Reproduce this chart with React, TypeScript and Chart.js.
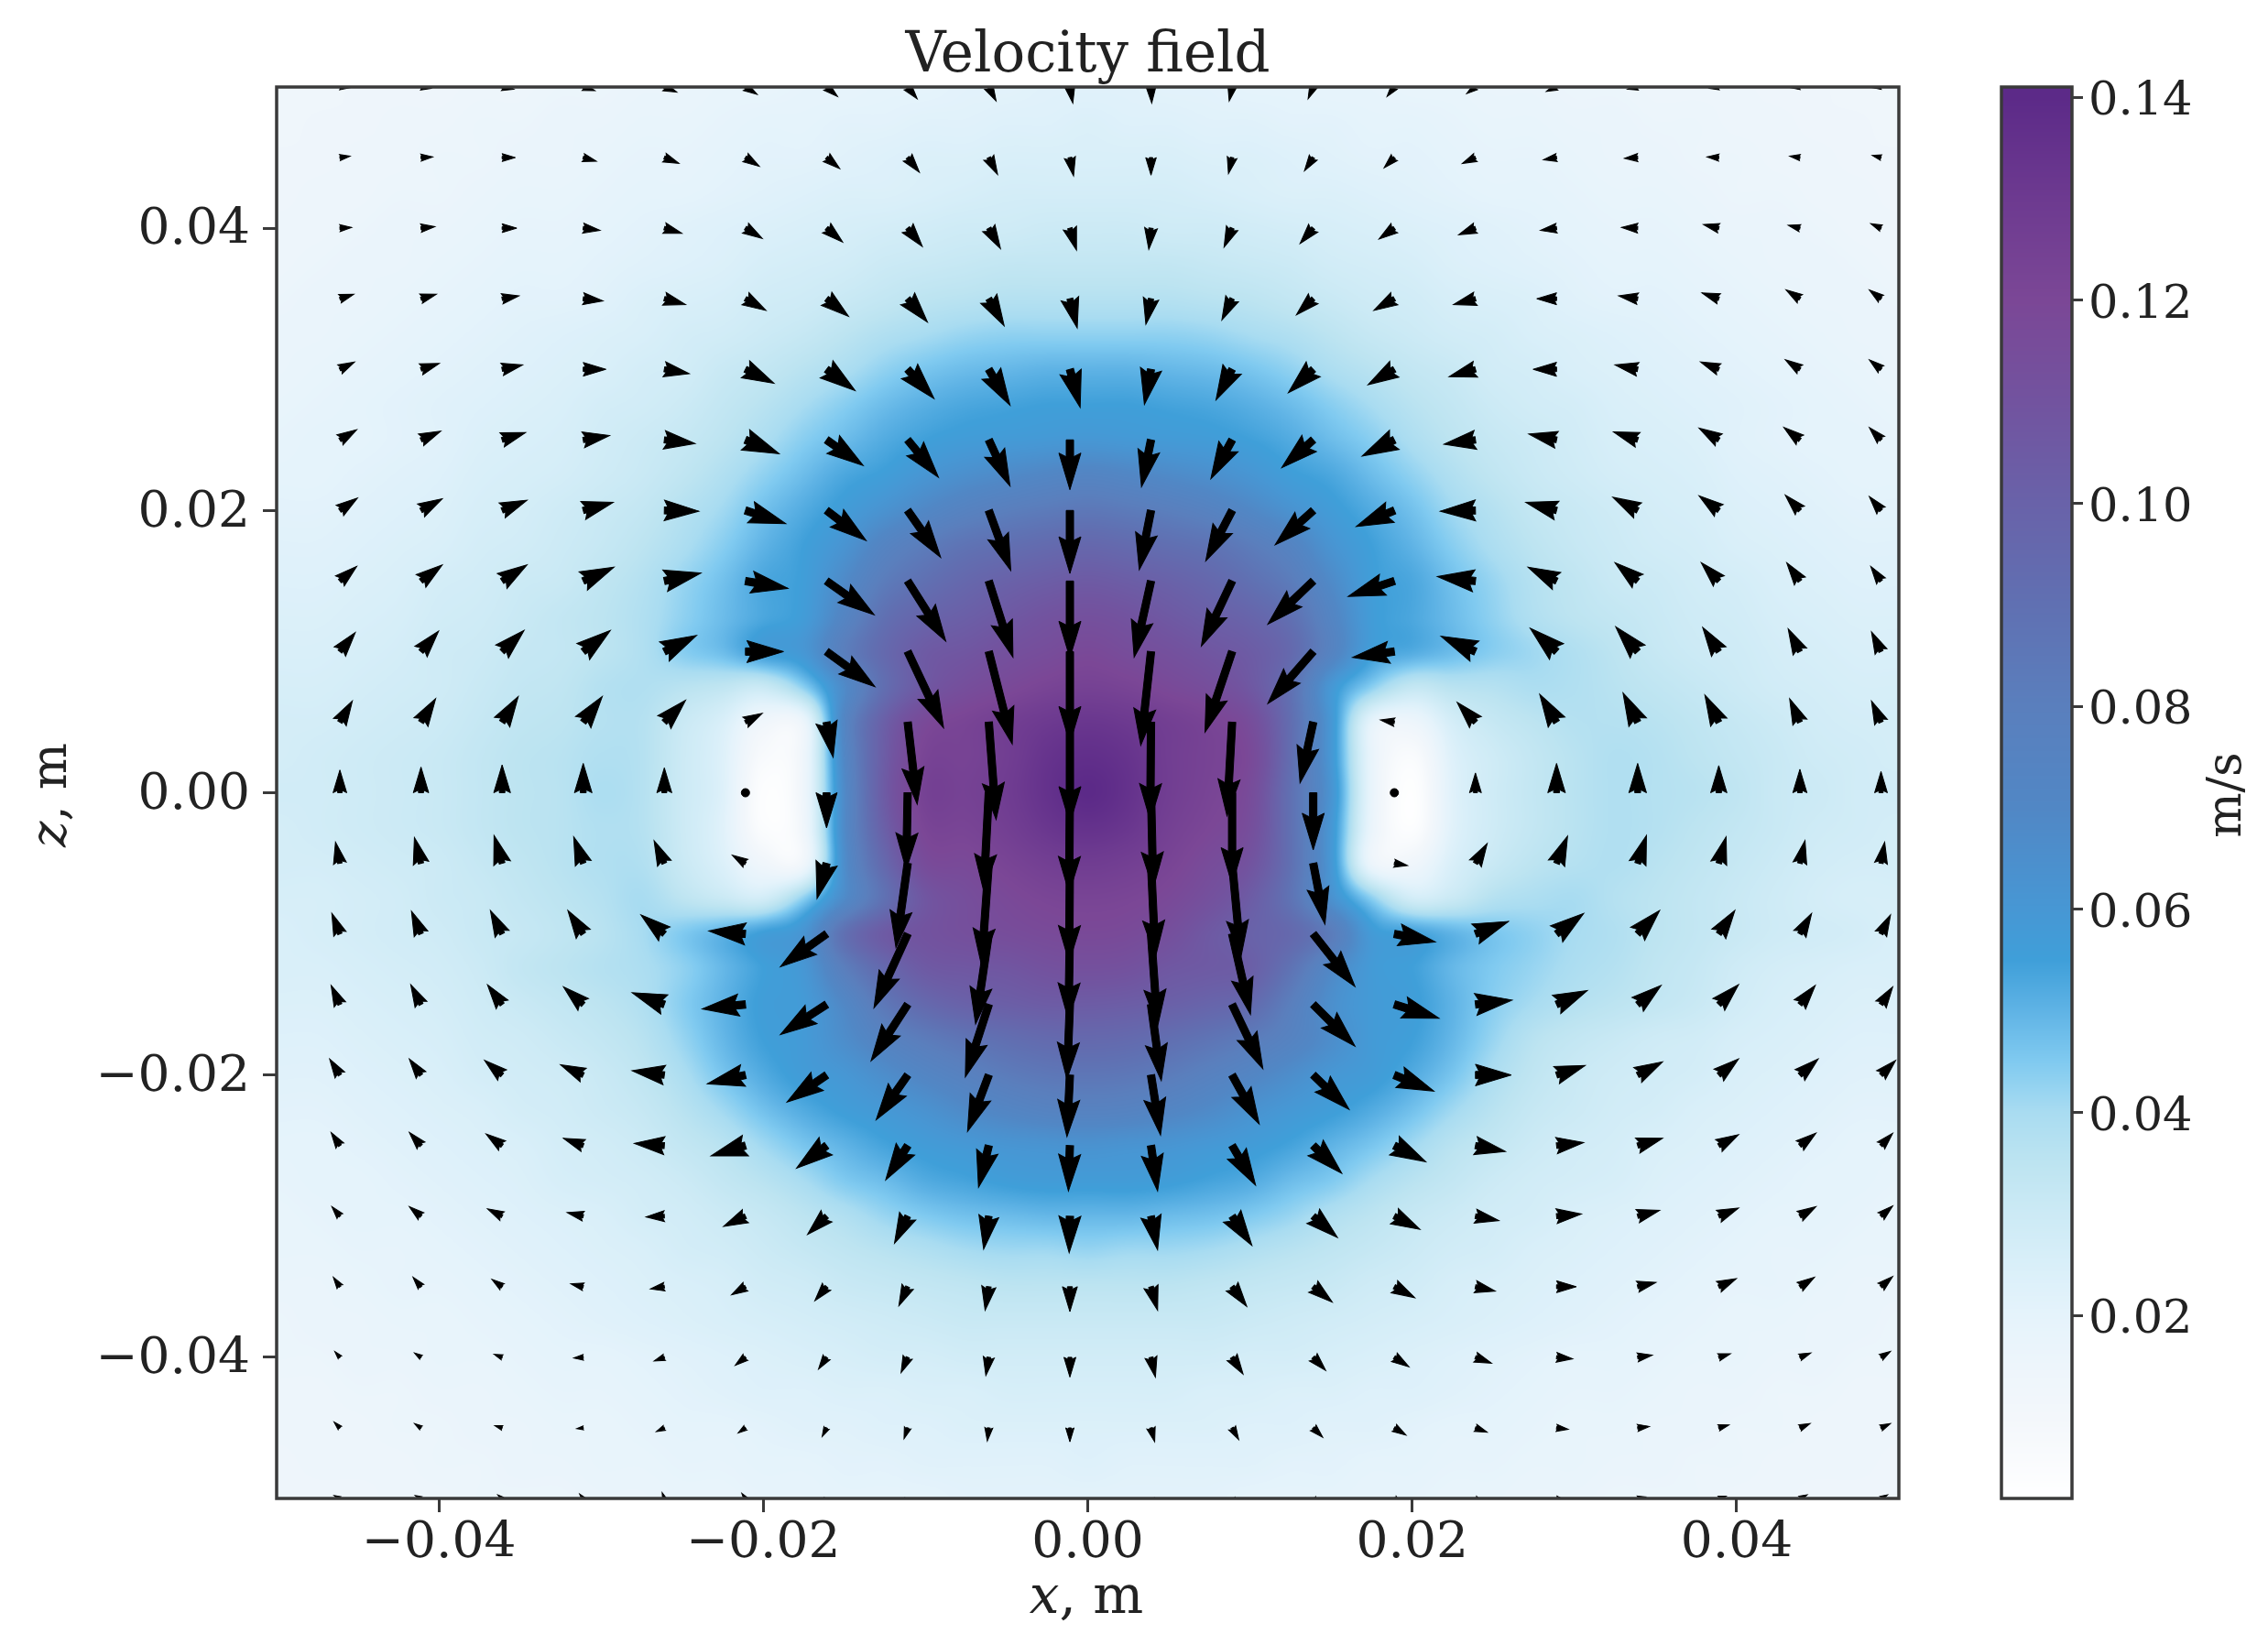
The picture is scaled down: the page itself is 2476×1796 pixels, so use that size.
import React, { useEffect, useRef } from 'react';
import { Chart, registerables } from 'chart.js';

Chart.register(...registerables);

const FONT = '"DejaVu Serif"';
const INK = '#222222';
const SPINE = '#3a3a3a';

const xTicks = [-0.04, -0.02, 0, 0.02, 0.04];
const zTicks = [-0.04, -0.02, 0, 0.02, 0.04];
const barTicks = [0.02, 0.04, 0.06, 0.08, 0.1, 0.12, 0.14];
const barMin = 0.00196;
const barMax = 0.141;

// colour bar: value in m/s -> colour
const cmapValues = [0.002, 0.01, 0.015, 0.02, 0.025, 0.03, 0.035, 0.04, 0.045, 0.05, 0.055, 0.06, 0.07, 0.08, 0.09, 0.1, 0.11, 0.12, 0.13, 0.14];
const cmapColors = ['#ffffff', '#f3f7fb', '#edf5fb', '#e5f3fb', '#d9eff9', '#cceaf5', '#bde4f1', '#a9dcf1', '#80caf0', '#5fb3e5', '#3f9fd9', '#4797d4', '#5187c5', '#5a7fbd', '#6070b2', '#6962a9', '#72539f', '#7b4796', '#6d3a90', '#5c2a88'];

// speed in mm/s, rows from z = 0.05 down to z = -0.05, columns from x = -0.05 to x = 0.05
const speedStep = 0.0025;
const speedGrid = [
  [13,13,14,14,14,15,15,16,16,17,17,18,18,19,19,20,20,21,21,22,22,22,21,21,20,20,19,19,18,18,17,17,16,16,15,15,15,14,14,13,13],
  [13,14,14,15,15,16,16,17,17,18,18,19,20,20,21,21,22,22,23,23,24,23,23,22,22,21,21,20,20,19,18,18,17,17,16,16,15,15,14,14,13],
  [14,14,15,15,16,16,17,17,18,19,19,20,21,21,22,23,24,24,25,25,25,25,25,24,24,23,22,21,21,20,19,19,18,17,17,16,16,15,15,14,14],
  [14,15,15,16,16,17,18,18,19,20,20,21,22,23,24,24,25,26,27,27,27,27,27,26,25,24,24,23,22,21,20,20,19,18,18,17,16,16,15,15,14],
  [15,15,16,17,17,18,19,19,20,21,22,23,24,25,26,27,28,29,29,30,30,30,29,29,28,27,26,25,24,23,22,21,20,19,19,18,17,17,16,15,15],
  [15,16,17,17,18,19,20,20,21,22,23,24,26,27,28,30,31,32,33,33,33,33,33,32,31,30,28,27,26,24,23,22,21,20,20,19,18,17,17,16,15],
  [16,17,17,18,19,20,21,21,22,24,25,26,28,29,31,33,35,36,37,37,37,37,37,36,35,33,31,29,28,26,25,24,22,21,21,20,19,18,17,17,16],
  [17,17,18,19,20,21,22,23,24,25,27,28,30,32,35,38,40,42,43,43,43,43,43,42,40,38,35,32,30,28,27,25,24,23,22,21,20,19,18,17,17],
  [17,18,19,20,21,22,23,24,25,27,28,31,33,36,39,43,46,48,49,50,50,50,49,48,46,43,39,36,33,31,28,27,25,24,23,22,21,20,19,18,17],
  [18,19,20,21,22,23,24,25,27,28,30,33,36,40,44,48,51,53,54,55,55,55,54,53,51,48,44,40,36,33,30,28,27,25,24,23,22,21,20,19,18],
  [19,20,20,21,22,24,25,26,28,30,32,35,39,44,48,52,55,57,58,59,60,59,58,57,55,52,48,44,39,35,32,30,28,26,25,24,22,21,20,20,19],
  [20,20,21,22,23,25,26,27,29,31,34,38,43,48,53,56,61,65,68,71,73,71,68,65,61,56,53,48,43,38,34,31,29,27,26,25,23,22,21,20,20],
  [21,21,22,23,24,26,27,29,31,33,37,41,47,52,57,63,70,76,80,83,85,83,80,76,70,63,57,52,47,41,37,33,31,29,27,26,24,23,22,21,21],
  [22,22,23,24,25,27,28,30,32,35,39,44,50,55,62,74,82,88,91,94,96,94,91,88,82,74,62,55,50,44,39,35,32,30,28,27,25,24,23,22,22],
  [23,23,24,25,27,28,30,31,34,37,42,47,53,56,68,82,90,96,100,103,105,103,100,96,90,82,68,56,53,47,42,37,34,31,30,28,27,25,24,23,23],
  [24,24,25,26,28,29,31,33,35,38,43,48,53,57,73,90,98,102,106,110,112,110,106,102,98,90,73,57,53,48,43,38,35,33,31,29,28,26,25,24,24],
  [25,25,26,27,29,30,32,33,35,38,44,48,56,60,80,95,105,108,112,115,118,115,112,108,104,95,75,56,52,48,44,41,38,35,32,30,29,27,26,25,25],
  [26,26,27,28,29,31,33,34,37,38,36,34,31,44,68,92,107,114,118,122,124,122,118,114,107,90,60,44,33,36,37,39,38,36,34,32,30,28,27,26,26],
  [27,27,28,29,30,32,34,35,37,37,31,25,13,16,72,102,118,122,126,130,132,130,126,122,115,92,60,20,15,27,32,35,37,37,36,34,32,30,28,27,27],
  [27,28,29,30,31,33,35,36,38,37,30,23,7,14,70,104,122,123,127,134,137,134,127,123,118,92,60,18,6,23,29,33,36,38,37,35,33,31,29,28,27],
  [28,28,29,30,31,33,35,36,39,37,30,23,4,14,68,105,124,124,128,135,140,135,127,122,116,90,62,18,3,22,29,33,36,38,37,36,34,31,30,28,28],
  [27,28,29,30,31,33,35,36,38,37,30,22,5,13,68,102,121,122,126,132,135,132,125,120,114,90,60,17,4,22,29,33,36,38,37,35,33,31,29,28,27],
  [27,27,28,29,30,32,34,36,38,38,31,24,13,13,66,96,116,118,122,126,128,126,122,116,110,90,60,16,13,25,31,35,37,38,36,34,32,30,28,27,27],
  [26,26,27,28,30,31,33,35,37,40,35,31,28,44,68,90,108,114,118,121,122,121,118,112,104,88,64,44,28,31,37,39,40,37,35,33,31,29,27,26,26],
  [25,26,27,28,29,31,32,34,36,40,45,50,56,62,90,105,110,113,115,117,118,117,113,106,100,95,82,58,55,50,46,43,40,38,35,33,31,29,28,27,25],
  [25,25,26,27,28,30,33,35,37,39,43,49,55,60,80,95,105,107,108,111,112,111,107,105,102,88,70,58,55,49,45,42,39,37,34,32,29,27,26,25,25],
  [24,24,25,26,27,29,31,33,35,38,44,50,56,58,70,85,95,100,102,104,104,103,101,98,94,80,65,58,56,50,44,40,37,35,33,31,28,26,25,24,24],
  [23,23,24,25,26,28,29,31,33,36,42,49,55,58,66,75,82,87,91,94,95,94,91,87,82,75,66,58,55,49,42,36,33,31,29,28,26,25,24,23,23],
  [22,22,23,24,25,27,28,29,31,34,39,46,52,57,60,66,72,77,82,85,86,85,82,77,72,66,60,57,52,46,39,34,31,29,28,27,25,24,23,22,22],
  [21,21,22,23,24,25,27,28,30,32,36,41,47,52,56,59,63,68,72,75,76,75,72,68,63,59,56,52,47,41,36,32,30,28,27,25,24,23,22,21,21],
  [20,20,21,22,23,24,25,27,28,30,33,36,41,46,50,54,57,59,61,62,63,62,61,59,57,54,50,46,41,36,33,30,28,27,25,24,23,22,21,20,20],
  [19,20,20,21,22,23,24,26,27,28,30,33,36,40,45,48,52,54,56,57,57,57,56,54,52,48,45,40,36,33,30,28,27,26,24,23,22,21,20,20,19],
  [18,19,20,20,21,22,23,24,25,27,28,30,32,35,38,42,45,47,48,49,49,49,48,47,45,42,38,35,32,30,28,27,25,24,23,22,21,20,20,19,18],
  [18,18,19,19,20,21,22,23,24,25,27,28,30,32,34,36,38,40,41,41,42,41,41,40,38,36,34,32,30,28,27,25,24,23,22,21,20,19,19,18,18],
  [17,17,18,19,19,20,21,22,23,24,25,26,28,29,31,32,33,34,35,35,35,35,35,34,33,32,31,29,28,26,25,24,23,22,21,20,19,19,18,17,17],
  [16,17,17,18,18,19,20,21,22,23,24,25,26,27,28,29,30,31,31,31,31,31,31,31,30,29,28,27,26,25,24,23,22,21,20,19,18,18,17,17,16],
  [16,16,17,17,18,18,19,20,20,21,22,23,24,25,26,27,27,28,28,28,28,28,28,28,27,27,26,25,24,23,22,21,20,20,19,18,18,17,17,16,16],
  [15,15,16,16,17,17,18,19,19,20,21,22,23,23,24,24,25,25,26,26,26,26,26,25,25,24,24,23,23,22,21,20,19,19,18,17,17,16,16,15,15],
  [15,15,15,16,16,17,17,18,18,19,20,20,21,22,22,23,23,24,24,24,24,24,24,24,23,23,22,22,21,20,20,19,18,18,17,17,16,16,15,15,15],
  [14,15,15,15,16,16,17,17,18,18,19,19,20,20,21,21,22,22,22,22,23,22,22,22,22,21,21,20,20,19,19,18,18,17,17,16,16,15,15,15,14],
  [14,14,14,15,15,16,16,16,17,17,18,18,19,19,20,20,20,21,21,21,21,21,21,21,20,20,20,19,19,18,18,17,17,16,16,16,15,15,14,14,14],
];

// quiver tails
const arrowX = [-0.0461, -0.0411, -0.0361, -0.0311, -0.0261, -0.0211, -0.0161, -0.0111, -0.0061, -0.0011, 0.0039, 0.0089, 0.0139, 0.0189, 0.0239, 0.0289, 0.0339, 0.0389, 0.0439, 0.0489];
const arrowZ = [0.05, 0.045, 0.04, 0.035, 0.03, 0.025, 0.02, 0.015, 0.01, 0.005, 0, -0.005, -0.01, -0.015, -0.02, -0.025, -0.03, -0.035, -0.04, -0.045, -0.05];

// horizontal velocity, mm/s (one row per arrowZ)
const arrowU = [
  [13,14,16,16,17,16,15,13,10,4,1,-4,-7,-10,-12,-14,-14,-13,-12,-11],
  [14,16,18,18,20,19,18,16,12,5,0,-5,-12,-14,-18,-18,-18,-16,-14,-12],
  [16,19,20,23,24,23,22,20,16,9,-3,-11,-18,-21,-23,-22,-22,-21,-16,-14],
  [19,21,23,27,29,28,30,27,21,10,-7,-14,-23,-28,-30,-27,-26,-23,-19,-16],
  [20,25,28,31,34,39,39,36,29,14,-9,-22,-34,-36,-36,-32,-31,-25,-20,-16],
  [23,27,32,36,42,46,50,42,29,0,-13,-29,-43,-44,-43,-38,-33,-27,-22,-16],
  [24,29,34,41,47,55,54,45,30,0,-16,-36,-52,-52,-48,-42,-34,-27,-20,-16],
  [23,29,34,42,50,58,65,52,33,0,-23,-42,-62,-63,-52,-39,-31,-24,-18,-14],
  [21,24,30,37,44,52,66,49,32,0,-14,-37,-62,-57,-47,-36,-30,-22,-16,-13],
  [17,20,22,26,29,23,9,13,10,0,-1,-7,-18,-19,-25,-23,-20,-19,-14,-13],
  [0,0,0,0,0,1,0,-2,-7,-1,3,0,0,1,0,0,0,0,0,0],
  [-6,-9,-11,-13,-14,-18,-13,-16,-10,-1,6,12,16,18,16,15,12,10,7,5],
  [-11,-13,-16,-21,-32,-50,-63,-46,-18,-2,9,25,57,56,45,37,30,22,16,13],
  [-12,-14,-20,-27,-44,-59,-63,-50,-32,-4,14,42,57,61,50,42,32,27,21,16],
  [-14,-16,-24,-31,-44,-52,-54,-43,-29,-4,13,37,49,54,49,39,34,27,25,20],
  [-12,-16,-22,-27,-41,-47,-41,-30,-14,-2,9,32,39,43,41,37,34,27,22,16],
  [-11,-16,-20,-22,-25,-30,-26,-18,-7,-1,9,27,33,35,32,34,30,27,22,16],
  [-9,-11,-14,-17,-19,-19,-16,-12,-5,0,9,20,26,28,27,27,25,24,20,16],
  [-7,-9,-11,-13,-14,-14,-11,-9,-4,0,6,15,17,20,22,22,20,16,15,13],
  [-8,-9,-10,-9,-11,-10,-6,-5,-2,0,5,9,13,16,16,16,16,14,14,13],
  [-8,-8,-6,-5,-3,-5,-4,-3,-1,0,3,5,8,10,10,11,11,10,10,9],
];

// vertical velocity, mm/s, positive up
const arrowW = [
  [-1,-2,-3,-5,-7,-10,-13,-16,-19,-22,-22,-19,-16,-13,-9,-6,-3,-2,-1,-1],
  [2,1,0,-5,-8,-12,-15,-20,-23,-25,-24,-22,-18,-14,-8,-3,-1,1,2,3],
  [1,2,0,-3,-7,-14,-19,-25,-28,-30,-29,-26,-21,-15,-9,-3,1,5,4,6],
  [6,6,4,-3,-8,-16,-24,-32,-37,-40,-35,-29,-22,-16,-8,0,4,8,12,12],
  [10,8,6,0,-6,-19,-29,-40,-49,-52,-48,-42,-32,-21,-10,0,6,10,13,13],
  [14,12,10,6,-5,-19,-35,-51,-63,-68,-64,-53,-38,-22,-6,8,11,16,17,17],
  [17,16,14,11,-1,-18,-41,-64,-82,-86,-81,-69,-47,-22,-1,11,18,20,21,19],
  [20,22,22,19,11,-10,-46,-82,-104,-105,-104,-89,-59,-21,6,19,25,25,25,20],
  [26,28,29,29,22,0,-48,-104,-126,-125,-128,-110,-71,-8,21,32,34,33,31,27],
  [29,32,35,35,30,12,-48,-112,-133,-138,-134,-128,-83,3,27,38,40,37,32,29],
  [31,35,38,40,34,0,-48,-105,-134,-137,-131,-125,-78,0,27,40,40,37,32,29],
  [29,35,38,36,31,11,-48,-115,-139,-135,-128,-128,-83,-3,27,37,38,36,31,29],
  [28,31,32,32,26,4,-45,-101,-123,-117,-126,-110,-72,-11,17,28,32,32,28,26],
  [26,27,27,24,16,-6,-41,-77,-99,-102,-104,-88,-57,-19,6,19,26,27,26,24],
  [22,22,20,14,6,-12,-37,-61,-77,-84,-82,-67,-47,-22,0,13,18,22,22,20],
  [18,18,16,10,3,-14,-31,-47,-57,-62,-62,-54,-38,-22,-8,4,10,15,17,17],
  [13,13,10,5,-1,-14,-25,-37,-45,-50,-46,-40,-29,-18,-6,3,8,11,13,14],
  [13,13,10,4,-3,-11,-19,-26,-32,-34,-32,-27,-21,-15,-6,0,6,11,13,14],
  [8,6,4,-1,-5,-11,-16,-21,-25,-27,-27,-23,-18,-13,-8,-2,3,5,6,8],
  [8,6,3,-1,-5,-7,-12,-15,-18,-19,-19,-16,-13,-10,-6,-2,2,4,6,6],
  [4,4,5,6,8,7,-10,-12,-14,-15,-14,-13,-11,-8,-5,-2,2,3,5,5],
];

// arrow length in px per mm/s, and shaft width in px
const quiverScale = 0.8;
const shaftWidth = 8;

function hexToRgb(hex: string) {
  return [parseInt(hex.slice(1, 3), 16), parseInt(hex.slice(3, 5), 16), parseInt(hex.slice(5, 7), 16)];
}

function speedColor(v: number) {
  if (v <= cmapValues[0]) return hexToRgb(cmapColors[0]);
  for (let i = 1; i < cmapValues.length; i++) {
    if (v <= cmapValues[i]) {
      const t = (v - cmapValues[i - 1]) / (cmapValues[i] - cmapValues[i - 1]);
      const a = hexToRgb(cmapColors[i - 1]);
      const b = hexToRgb(cmapColors[i]);
      return [a[0] + (b[0] - a[0]) * t, a[1] + (b[1] - a[1]) * t, a[2] + (b[2] - a[2]) * t];
    }
  }
  return hexToRgb(cmapColors[cmapColors.length - 1]);
}

const lut: number[][] = [];
for (let i = 0; i <= 1500; i++) lut.push(speedColor(i / 10000));

function catmull(p0: number, p1: number, p2: number, p3: number, t: number) {
  return 0.5 * (2 * p1 + (p2 - p0) * t + (2 * p0 - 5 * p1 + 4 * p2 - p3) * t * t + (3 * p1 - p0 - 3 * p2 + p3) * t * t * t);
}

function cell(r: number, c: number) {
  const row = speedGrid[Math.max(0, Math.min(speedGrid.length - 1, r))];
  return row[Math.max(0, Math.min(row.length - 1, c))];
}

function sampleSpeed(x: number, z: number) {
  const fc = (x + 0.05) / speedStep;
  const fr = (0.05 - z) / speedStep;
  const c = Math.floor(fc);
  const r = Math.floor(fr);
  const tc = fc - c;
  const tr = fr - r;
  const rows = [-1, 0, 1, 2].map((dr) =>
    catmull(cell(r + dr, c - 1), cell(r + dr, c), cell(r + dr, c + 1), cell(r + dr, c + 2), tc)
  );
  return catmull(rows[0], rows[1], rows[2], rows[3], tr);
}

const fieldPlugin = {
  id: 'speedField',
  beforeDatasetsDraw(chart: any) {
    const { ctx, chartArea: a, scales } = chart;
    const w = Math.round(a.right - a.left);
    const h = Math.round(a.bottom - a.top);
    const off = document.createElement('canvas');
    off.width = w;
    off.height = h;
    const octx = off.getContext('2d');
    if (!octx) return;
    const img = octx.createImageData(w, h);
    for (let j = 0; j < h; j++) {
      const z = scales.y.getValueForPixel(a.top + j + 0.5);
      for (let i = 0; i < w; i++) {
        const x = scales.x.getValueForPixel(a.left + i + 0.5);
        const mm = Math.max(0, Math.min(150, sampleSpeed(x, z)));
        const rgb = lut[Math.round(mm * 10)];
        const k = (j * w + i) * 4;
        img.data[k] = rgb[0];
        img.data[k + 1] = rgb[1];
        img.data[k + 2] = rgb[2];
        img.data[k + 3] = 255;
      }
    }
    octx.putImageData(img, 0, 0);
    ctx.drawImage(off, a.left, a.top);
  },
};

function drawArrow(ctx: CanvasRenderingContext2D, px: number, py: number, u: number, w: number) {
  const len = Math.hypot(u, w) * quiverScale;
  const hw = shaftWidth * 3;
  const hl = shaftWidth * 5;
  const ha = shaftWidth * 4.5;
  ctx.save();
  ctx.translate(px, py);
  ctx.beginPath();
  if (len < 4) {
    ctx.arc(0, 0, 4.5, 0, Math.PI * 2);
  } else {
    ctx.rotate(Math.atan2(-w, u));
    const s = len < hl ? len / hl : 1;
    const L = len;
    const sw = (shaftWidth * s) / 2;
    const barb = L - hl * s;
    const neck = L - ha * s;
    ctx.moveTo(0, -sw);
    ctx.lineTo(neck, -sw);
    ctx.lineTo(barb, (-hw * s) / 2);
    ctx.lineTo(L, 0);
    ctx.lineTo(barb, (hw * s) / 2);
    ctx.lineTo(neck, sw);
    ctx.lineTo(0, sw);
    ctx.closePath();
  }
  ctx.fillStyle = '#000000';
  ctx.fill();
  ctx.strokeStyle = '#000000';
  ctx.lineWidth = 1;
  ctx.stroke();
  ctx.restore();
}

const quiverPlugin = {
  id: 'quiver',
  afterDatasetsDraw(chart: any) {
    const { ctx, chartArea: a } = chart;
    const meta = chart.getDatasetMeta(0);
    const points = chart.data.datasets[0].data;
    ctx.save();
    ctx.beginPath();
    ctx.rect(a.left, a.top, a.right - a.left, a.bottom - a.top);
    ctx.clip();
    meta.data.forEach((el: any, i: number) => {
      drawArrow(ctx, el.x, el.y, points[i].u, points[i].w);
    });
    ctx.restore();
    ctx.strokeStyle = SPINE;
    ctx.lineWidth = 3.5;
    ctx.strokeRect(a.left, a.top, a.right - a.left, a.bottom - a.top);
  },
};

function mathLabel(ctx: CanvasRenderingContext2D, symbol: string, rest: string, size: number) {
  ctx.textBaseline = 'middle';
  ctx.textAlign = 'left';
  ctx.font = `italic ${size}px ${FONT}`;
  const w1 = ctx.measureText(symbol).width;
  ctx.font = `${size}px ${FONT}`;
  const w2 = ctx.measureText(rest).width;
  ctx.font = `italic ${size}px ${FONT}`;
  ctx.fillText(symbol, -(w1 + w2) / 2, 0);
  ctx.font = `${size}px ${FONT}`;
  ctx.fillText(rest, -(w1 + w2) / 2 + w1, 0);
}

const axisLabelPlugin = {
  id: 'axisLabels',
  afterDraw(chart: any) {
    const { ctx } = chart;
    ctx.save();
    ctx.fillStyle = INK;
    ctx.translate(1186, 1746);
    mathLabel(ctx, 'x', ', m', 58);
    ctx.restore();
    ctx.save();
    ctx.fillStyle = INK;
    ctx.translate(58, 868);
    ctx.rotate(-Math.PI / 2);
    mathLabel(ctx, 'z', ', m', 54);
    ctx.restore();
  },
};

const barPlugin = {
  id: 'colorBar',
  beforeDatasetsDraw(chart: any) {
    const { ctx, chartArea: a, scales } = chart;
    for (let py = Math.floor(a.top); py < a.bottom; py++) {
      const rgb = speedColor(scales.y.getValueForPixel(py + 0.5));
      ctx.fillStyle = `rgb(${rgb[0]},${rgb[1]},${rgb[2]})`;
      ctx.fillRect(a.left, py, a.right - a.left, 1);
    }
    ctx.strokeStyle = SPINE;
    ctx.lineWidth = 3.5;
    ctx.strokeRect(a.left, a.top, a.right - a.left, a.bottom - a.top);
  },
  afterDraw(chart: any) {
    const { ctx } = chart;
    ctx.save();
    ctx.fillStyle = INK;
    ctx.translate(332, 868);
    ctx.rotate(-Math.PI / 2);
    ctx.font = `52px ${FONT}`;
    ctx.textAlign = 'center';
    ctx.textBaseline = 'middle';
    ctx.fillText('m/s', 0, 0);
    ctx.restore();
  },
};

const tickLabel = (v: number | string) => Number(v).toFixed(2).replace('-', '\u2212');

export default function App() {
  const fieldRef = useRef<HTMLCanvasElement | null>(null);
  const barRef = useRef<HTMLCanvasElement | null>(null);

  useEffect(() => {
    document.body.style.margin = '0';
    if (!fieldRef.current || !barRef.current) return;

    const tails: { x: number; y: number; u: number; w: number }[] = [];
    arrowZ.forEach((z, r) => {
      arrowX.forEach((x, c) => {
        tails.push({ x, y: z, u: arrowU[r][c], w: arrowW[r][c] });
      });
    });

    const fieldChart = new Chart(fieldRef.current, {
      type: 'scatter',
      data: { datasets: [{ data: tails as any, pointRadius: 0, pointHoverRadius: 0 }] },
      options: {
        responsive: false,
        animation: false,
        devicePixelRatio: 1,
        layout: { padding: { left: 0, right: 403, top: 0, bottom: 0 } },
        plugins: {
          legend: { display: false },
          tooltip: { enabled: false },
          title: {
            display: true,
            text: 'Velocity field',
            fullSize: false,
            color: INK,
            font: { family: FONT, size: 61, weight: 'normal', lineHeight: 1 },
            padding: { top: 32, bottom: 2 },
          },
        },
        scales: {
          x: {
            type: 'linear',
            min: -0.05,
            max: 0.05,
            afterBuildTicks: (s: any) => { s.ticks = xTicks.map((value) => ({ value })); },
            afterFit: (s: any) => { s.height = 160; },
            grid: { drawOnChartArea: false, tickLength: 15, tickColor: SPINE, tickWidth: 3 },
            border: { display: false },
            ticks: { color: INK, font: { family: FONT, size: 55 }, maxRotation: 0, autoSkip: false, padding: 2, callback: tickLabel },
          },
          y: {
            type: 'linear',
            min: -0.05,
            max: 0.05,
            afterBuildTicks: (s: any) => { s.ticks = zTicks.map((value) => ({ value })); },
            afterFit: (s: any) => { s.width = 302; },
            grid: { drawOnChartArea: false, tickLength: 15, tickColor: SPINE, tickWidth: 3 },
            border: { display: false },
            ticks: { color: INK, font: { family: FONT, size: 55 }, autoSkip: false, padding: 14, labelOffset: 3, callback: tickLabel },
          },
        },
      },
      plugins: [fieldPlugin, quiverPlugin, axisLabelPlugin],
    } as any);

    const barChart = new Chart(barRef.current, {
      type: 'scatter',
      data: { datasets: [{ data: [], pointRadius: 0 }] },
      options: {
        responsive: false,
        animation: false,
        devicePixelRatio: 1,
        layout: { padding: { left: 85, right: 0, top: 95, bottom: 160 } },
        plugins: { legend: { display: false }, tooltip: { enabled: false } },
        scales: {
          x: { display: false, min: 0, max: 1 },
          y: {
            type: 'linear',
            position: 'right',
            min: barMin,
            max: barMax,
            afterBuildTicks: (s: any) => { s.ticks = barTicks.map((value) => ({ value })); },
            afterFit: (s: any) => { s.width = 214; },
            grid: { drawOnChartArea: false, tickLength: 12, tickColor: SPINE, tickWidth: 3 },
            border: { display: false },
            ticks: { color: INK, font: { family: FONT, size: 51 }, autoSkip: false, padding: 6, labelOffset: 6, callback: tickLabel },
          },
        },
      },
      plugins: [barPlugin],
    } as any);

    return () => {
      fieldChart.destroy();
      barChart.destroy();
    };
  }, []);

  return (
    <div style={{ position: 'relative', width: 2476, height: 1796, background: '#ffffff', overflow: 'hidden' }}>
      <canvas ref={fieldRef} width={2476} height={1796} style={{ position: 'absolute', left: 0, top: 0 }} />
      <canvas ref={barRef} width={376} height={1796} style={{ position: 'absolute', left: 2100, top: 0 }} />
    </div>
  );
}
